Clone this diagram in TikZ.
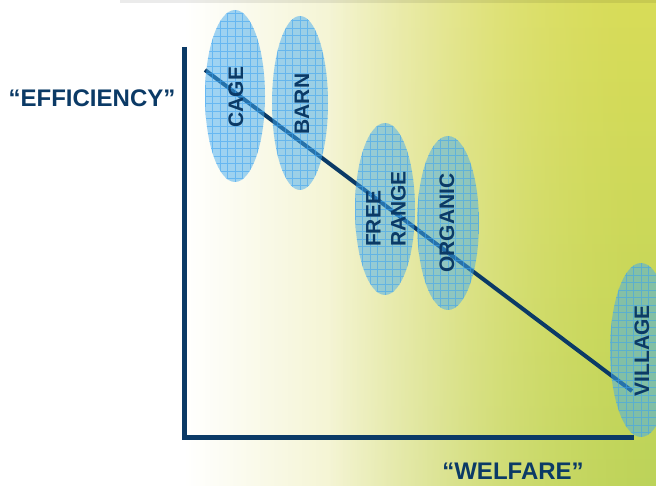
\documentclass[tikz,border=0pt]{standalone}
\usepackage{fontspec}
\setmainfont{Liberation Sans}
\usetikzlibrary{fadings,shapes.geometric}
\definecolor{navy}{HTML}{0B3A66}
\definecolor{bgmid}{HTML}{EDEDB6}
\definecolor{bgright}{HTML}{D8DC58}
\definecolor{bggreen}{HTML}{BCD35A}
\definecolor{ellfill}{HTML}{42AAF0}
\definecolor{gridblue}{HTML}{3AA2F2}
\pgfdeclarehorizontalshading{bgshade}{100bp}{color(0bp)=(white); color(25bp)=(white); color(39bp)=(white); color(58bp)=(bgmid); color(75bp)=(bgright); color(100bp)=(bgright)}
\begin{document}
\begin{tikzpicture}[x=1pt,y=-1pt,
  blob/.style={ellipse, inner sep=0pt, fill=ellfill, fill opacity=0.5, draw=none,
    path picture={\draw[gridblue, line width=0.5pt, draw opacity=0.55, step=7.5pt]
      (path picture bounding box.south west) grid (path picture bounding box.north east);}},
  lbl/.style={font=\fontsize{21}{25}\selectfont\bfseries, text=navy, rotate=90, align=left, inner sep=0pt},
  axlbl/.style={font=\fontsize{24}{24}\selectfont\bfseries, text=navy, inner sep=0pt}]
\useasboundingbox (0,0) rectangle (656,486);
% background
\shade[shading=bgshade] (0,0) rectangle (656,486);
\shade[top color=bgright, bottom color=bggreen, path fading=west] (330,0) rectangle (656,486);
\fill[black, fill opacity=0.08] (120,0) rectangle (656,3);
% trend line
\coordinate (ls) at (205,70);
\coordinate (le) at (632,391);
\draw[navy, line width=4pt] (ls) -- (le);
% ellipses
\node (cage) [blob, minimum width=60pt, minimum height=172pt] at (235,96) {};
\node (barn) [blob, minimum width=56pt, minimum height=174pt] at (300,103) {};
\node (free) [blob, minimum width=60pt, minimum height=172pt] at (385,209) {};
\node (org)  [blob, minimum width=62pt, minimum height=174pt] at (448,223) {};
\node (vil)  [blob, minimum width=62pt, minimum height=174pt] at (641,350) {};
% labels
\node (tcage) [lbl] at (236,97) {CAGE};
\node (tbarn) [lbl] at (302,104) {BARN};
\node (tfree) [lbl] at (386,209) {FREE\\RANGE};
\node (torg)  [lbl] at (447,223) {ORGANIC};
\node (tvil)  [lbl] at (642,351) {VILLAGE};
% axes
\coordinate (ytop) at (184,47);
\coordinate (o) at (184,437);
\coordinate (xend) at (634,437);
\draw[navy, line width=5pt, line join=miter] (ytop) -- (o) -- (xend);
\node (eff) [axlbl] at (92,98) {“EFFICIENCY”};
\node (wel) [axlbl] at (513,471) {“WELFARE”};
\end{tikzpicture}
\end{document}
